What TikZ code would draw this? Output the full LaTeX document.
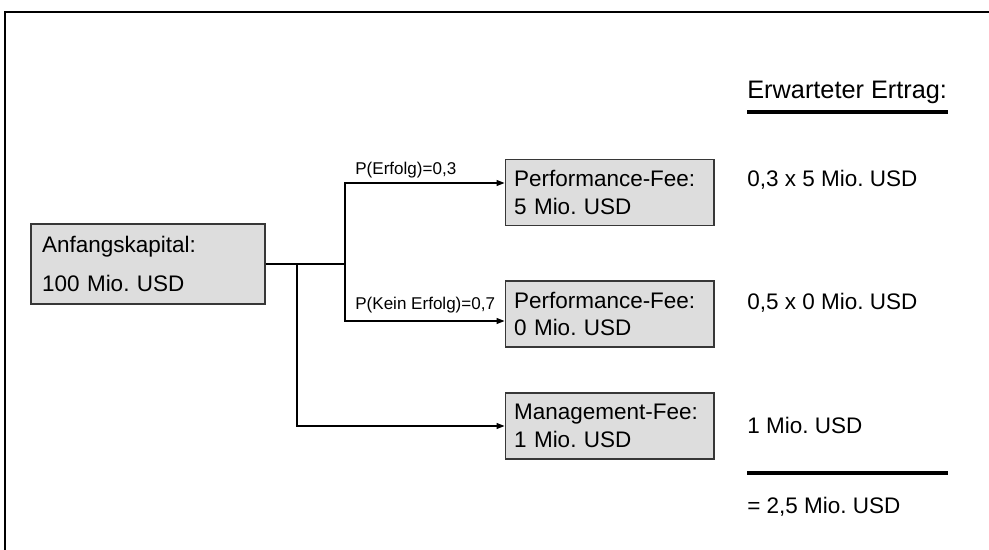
\documentclass[tikz,border=0pt]{standalone}
\usepackage{fontspec}
\setmainfont{Liberation Sans}
\usetikzlibrary{arrows.meta}

\definecolor{boxgray}{RGB}{221,221,221}
\definecolor{boxline}{RGB}{55,55,55}

\tikzset{
  feebox/.style={draw=boxline, fill=boxgray, line width=0.6pt, inner xsep=0.18cm,
    text width=3.82cm, minimum height=1.32cm, align=left,
    font=\fontsize{12.8}{15.9}\selectfont},
  startbox/.style={feebox, inner xsep=0.22cm, text width=4.24cm, minimum height=1.6cm,
    font=\fontsize{12.8}{22.2}\selectfont},
  problbl/.style={anchor=west, inner sep=0pt, font=\fontsize{9.7}{11}\selectfont},
  ertrag/.style={anchor=west, inner sep=0pt, font=\fontsize{12.8}{15}\selectfont},
  conn/.style={line width=0.7pt},
  arr/.style={conn, -{Triangle[length=1.6mm,width=1.2mm]}},
  rule/.style={line width=2.3pt}
}

\begin{document}
\frenchspacing
\begin{tikzpicture}[x=0.02cm, y=-0.02cm]
  \useasboundingbox (0,0) rectangle (989,550);
  \draw[line width=1.1pt] (5,550) -- (5,12) -- (989,12);

  \coordinate (j1) at (297,264);
  \coordinate (j2) at (345,264);

  \node[startbox] (start) at (148,264) {Anfangskapital:\\100 Mio. USD};
  \node[feebox] (perf1) at (609.5,192.5) {Performance-Fee:\\5 Mio. USD};
  \node[feebox] (perf2) at (609.5,314) {Performance-Fee:\\0 Mio. USD};
  \node[feebox] (mgmt) at (609.5,426) {Management-Fee:\\1 Mio. USD};

  \draw[conn] (start.east |- j2) -- (j2);
  \draw[arr] (j2) |- ([yshift=0.19cm]perf1.west);
  \draw[arr] (j2) |- ([yshift=-0.14cm]perf2.west);
  \draw[arr] (j1) |- (mgmt.west);

  \node[problbl] (perfolg) at (355,170) {P(Erfolg)=0,3};
  \node[problbl] (pkein) at (355,305) {P(Kein Erfolg)=0,7};

  \node[ertrag, font=\fontsize{14.4}{17}\selectfont] (head) at (747,92) {Erwarteter Ertrag:};
  \draw[rule] (747,112) -- (948,112);
  \node[ertrag] (e1) at (747,180) {0,3 x 5 Mio. USD};
  \node[ertrag] (e2) at (747,303) {0,5 x 0 Mio. USD};
  \node[ertrag] (e3) at (747,425) {1 Mio. USD};
  \draw[rule] (747,473) -- (948,473);
  \node[ertrag] (sum) at (747,507) {= 2,5 Mio. USD};
\end{tikzpicture}
\end{document}
